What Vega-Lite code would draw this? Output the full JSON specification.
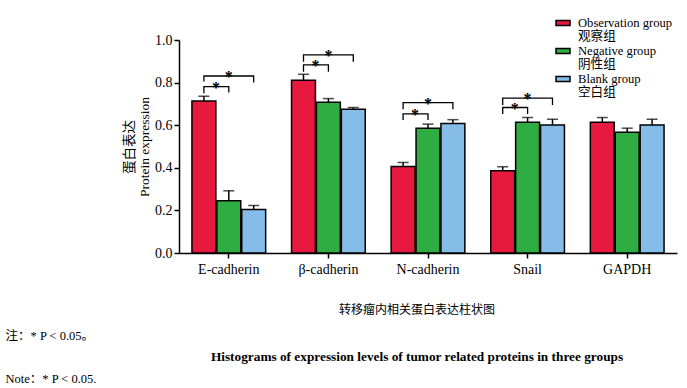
{
  "$schema": "https://vega.github.io/schema/vega-lite/v6.json",
  "width": 498,
  "height": 213,
  "autosize": "none",
  "padding": {"left": 179, "top": 40, "right": 10, "bottom": 135},
  "background": "white",
  "config": {
    "view": {"stroke": null},
    "axis": {
      "domainColor": "black", "domainWidth": 1.5, "tickColor": "black", "tickWidth": 1.5,
      "tickSize": 5, "grid": false, "labelColor": "black", "titleColor": "black",
      "labelFont": "Liberation Serif", "labelFontSize": 14
    }
  },
  "datasets": {
    "bars": [
      {"protein": "E-cadherin", "group": "Observation group", "value": 0.714, "upper": 0.736},
      {"protein": "E-cadherin", "group": "Negative group", "value": 0.245, "upper": 0.292},
      {"protein": "E-cadherin", "group": "Blank group", "value": 0.204, "upper": 0.223},
      {"protein": "β-cadherin", "group": "Observation group", "value": 0.811, "upper": 0.839},
      {"protein": "β-cadherin", "group": "Negative group", "value": 0.708, "upper": 0.725},
      {"protein": "β-cadherin", "group": "Blank group", "value": 0.675, "upper": 0.683},
      {"protein": "N-cadherin", "group": "Observation group", "value": 0.406, "upper": 0.425},
      {"protein": "N-cadherin", "group": "Negative group", "value": 0.586, "upper": 0.605},
      {"protein": "N-cadherin", "group": "Blank group", "value": 0.608, "upper": 0.626},
      {"protein": "Snail", "group": "Observation group", "value": 0.386, "upper": 0.405},
      {"protein": "Snail", "group": "Negative group", "value": 0.614, "upper": 0.636},
      {"protein": "Snail", "group": "Blank group", "value": 0.601, "upper": 0.628},
      {"protein": "GAPDH", "group": "Observation group", "value": 0.614, "upper": 0.636},
      {"protein": "GAPDH", "group": "Negative group", "value": 0.567, "upper": 0.586},
      {"protein": "GAPDH", "group": "Blank group", "value": 0.601, "upper": 0.628}
    ],
    "brackets": [
      {"protein": "E-cadherin", "bracket": "E1", "group": "Observation group", "y": 0.75, "ord": 1},
      {"protein": "E-cadherin", "bracket": "E1", "group": "Observation group", "y": 0.781, "ord": 2},
      {"protein": "E-cadherin", "bracket": "E1", "group": "Negative group", "y": 0.781, "ord": 3},
      {"protein": "E-cadherin", "bracket": "E1", "group": "Negative group", "y": 0.753, "ord": 4},
      {"protein": "E-cadherin", "bracket": "E2", "group": "Observation group", "y": 0.805, "ord": 1},
      {"protein": "E-cadherin", "bracket": "E2", "group": "Observation group", "y": 0.831, "ord": 2},
      {"protein": "E-cadherin", "bracket": "E2", "group": "Blank group", "y": 0.831, "ord": 3},
      {"protein": "E-cadherin", "bracket": "E2", "group": "Blank group", "y": 0.8, "ord": 4},
      {"protein": "β-cadherin", "bracket": "B1", "group": "Observation group", "y": 0.851, "ord": 1},
      {"protein": "β-cadherin", "bracket": "B1", "group": "Observation group", "y": 0.883, "ord": 2},
      {"protein": "β-cadherin", "bracket": "B1", "group": "Negative group", "y": 0.883, "ord": 3},
      {"protein": "β-cadherin", "bracket": "B1", "group": "Negative group", "y": 0.851, "ord": 4},
      {"protein": "β-cadherin", "bracket": "B2", "group": "Observation group", "y": 0.898, "ord": 1},
      {"protein": "β-cadherin", "bracket": "B2", "group": "Observation group", "y": 0.93, "ord": 2},
      {"protein": "β-cadherin", "bracket": "B2", "group": "Blank group", "y": 0.93, "ord": 3},
      {"protein": "β-cadherin", "bracket": "B2", "group": "Blank group", "y": 0.898, "ord": 4},
      {"protein": "N-cadherin", "bracket": "N1", "group": "Observation group", "y": 0.625, "ord": 1},
      {"protein": "N-cadherin", "bracket": "N1", "group": "Observation group", "y": 0.653, "ord": 2},
      {"protein": "N-cadherin", "bracket": "N1", "group": "Negative group", "y": 0.653, "ord": 3},
      {"protein": "N-cadherin", "bracket": "N1", "group": "Negative group", "y": 0.625, "ord": 4},
      {"protein": "N-cadherin", "bracket": "N2", "group": "Observation group", "y": 0.675, "ord": 1},
      {"protein": "N-cadherin", "bracket": "N2", "group": "Observation group", "y": 0.706, "ord": 2},
      {"protein": "N-cadherin", "bracket": "N2", "group": "Blank group", "y": 0.706, "ord": 3},
      {"protein": "N-cadherin", "bracket": "N2", "group": "Blank group", "y": 0.675, "ord": 4},
      {"protein": "Snail", "bracket": "S1", "group": "Observation group", "y": 0.652, "ord": 1},
      {"protein": "Snail", "bracket": "S1", "group": "Observation group", "y": 0.683, "ord": 2},
      {"protein": "Snail", "bracket": "S1", "group": "Negative group", "y": 0.683, "ord": 3},
      {"protein": "Snail", "bracket": "S1", "group": "Negative group", "y": 0.652, "ord": 4},
      {"protein": "Snail", "bracket": "S2", "group": "Observation group", "y": 0.695, "ord": 1},
      {"protein": "Snail", "bracket": "S2", "group": "Observation group", "y": 0.727, "ord": 2},
      {"protein": "Snail", "bracket": "S2", "group": "Blank group", "y": 0.727, "ord": 3},
      {"protein": "Snail", "bracket": "S2", "group": "Blank group", "y": 0.695, "ord": 4}
    ],
    "stars": [
      {"protein": "E-cadherin", "group": "Observation group", "pos": "inner", "y": 0.781},
      {"protein": "E-cadherin", "group": "Negative group", "pos": "outer", "y": 0.831},
      {"protein": "β-cadherin", "group": "Observation group", "pos": "inner", "y": 0.883},
      {"protein": "β-cadherin", "group": "Negative group", "pos": "outer", "y": 0.93},
      {"protein": "N-cadherin", "group": "Observation group", "pos": "inner", "y": 0.653},
      {"protein": "N-cadherin", "group": "Negative group", "pos": "outer", "y": 0.706},
      {"protein": "Snail", "group": "Observation group", "pos": "inner", "y": 0.683},
      {"protein": "Snail", "group": "Negative group", "pos": "outer", "y": 0.727}
    ]
  },
  "title": {
    "text": "转移瘤内相关蛋白表达柱状图",
    "subtitle": "Histograms of expression levels of tumor related proteins in three groups",
    "orient": "bottom",
    "anchor": "middle",
    "frame": "group",
    "dx": -11,
    "offset": -80,
    "font": "Noto Sans CJK SC",
    "fontSize": 12,
    "fontWeight": "normal",
    "color": "black",
    "subtitleFont": "Liberation Serif",
    "subtitleFontSize": 13.3,
    "subtitleFontWeight": "bold",
    "subtitleColor": "black",
    "subtitlePadding": 33
  },
  "encoding": {
    "x": {
      "field": "protein", "type": "nominal",
      "sort": ["E-cadherin", "β-cadherin", "N-cadherin", "Snail", "GAPDH"],
      "scale": {"paddingInner": 0.26, "paddingOuter": 0.13},
      "axis": {
        "labelAngle": 0, "labelPadding": 4,
        "title": ["注：* P < 0.05。", "Note：* P < 0.05."],
        "titleFont": "Liberation Serif, Noto Sans CJK SC",
        "titleFontSize": 12.5, "titleFontWeight": "normal",
        "titleAlign": "left", "titleAnchor": "start", "titleX": -174, "titleY": 86,
        "titleBaseline": "alphabetic", "titleLineHeight": 43
      }
    },
    "xOffset": {
      "field": "group", "type": "nominal",
      "sort": ["Observation group", "Negative group", "Blank group"],
      "scale": {"paddingInner": 0.04}
    }
  },
  "layer": [
    {
      "data": {"name": "bars"},
      "mark": {"type": "bar", "stroke": "black", "strokeWidth": 1.5},
      "encoding": {
        "y": {
          "field": "value", "type": "quantitative",
          "scale": {"domain": [0, 1], "nice": false},
          "axis": {
            "values": [0, 0.2, 0.4, 0.6, 0.8, 1.0], "format": ".1f", "labelPadding": 2,
            "title": ["蛋白表达", "Protein expression"],
            "titleFont": "Liberation Serif, Noto Sans CJK SC", "titleFontSize": 13.5,
            "titleFontWeight": "normal", "titleLineHeight": 15, "titlePadding": 3
          }
        },
        "color": {
          "field": "group", "type": "nominal",
          "scale": {
            "domain": ["Observation group", "Negative group", "Blank group"],
            "range": ["#E8193E", "#2EAE42", "#86BDE8"]
          },
          "legend": {
            "orient": "none", "legendX": 376, "legendY": -25, "title": null,
            "padding": 0,
            "symbolType": "M-1,-0.35H1V0.35H-1Z", "symbolSize": 196,
            "symbolStrokeColor": "black", "symbolStrokeWidth": 1.5,
            "labelFont": "Liberation Serif, Noto Sans CJK SC", "labelFontSize": 12.6,
            "labelColor": "black", "labelOffset": 7,
            "labelBaseline": "middle", "rowPadding": 0, "labelLimit": 200,
            "encode": {"labels": {"update": {"lineHeight": {"value": 12.5}}}},
            "labelExpr": "datum.label == 'Observation group' ? ['Observation group', '观察组'] : datum.label == 'Negative group' ? ['Negative group', '阴性组'] : ['Blank group', '空白组']"
          }
        }
      }
    },
    {
      "data": {"name": "bars"},
      "mark": {"type": "rule", "color": "black", "strokeWidth": 1.5},
      "encoding": {
        "y": {"field": "value", "type": "quantitative"},
        "y2": {"field": "upper"}
      }
    },
    {
      "data": {"name": "bars"},
      "mark": {"type": "tick", "color": "black", "thickness": 1.5, "size": 11, "orient": "horizontal"},
      "encoding": {
        "y": {"field": "upper", "type": "quantitative"}
      }
    },
    {
      "data": {"name": "brackets"},
      "mark": {"type": "line", "color": "black", "strokeWidth": 1.3},
      "encoding": {
        "y": {"field": "y", "type": "quantitative"},
        "detail": {"field": "bracket"},
        "order": {"field": "ord"}
      }
    },
    {
      "data": {"name": "stars"},
      "transform": [{"filter": "datum.pos == 'inner'"}],
      "mark": {"type": "text", "text": "*", "font": "Liberation Serif", "fontSize": 16, "fontWeight": "bold", "dx": 12, "dy": 6, "baseline": "alphabetic", "color": "black"},
      "encoding": {
        "y": {"field": "y", "type": "quantitative"}
      }
    },
    {
      "data": {"name": "stars"},
      "transform": [{"filter": "datum.pos == 'outer'"}],
      "mark": {"type": "text", "text": "*", "font": "Liberation Serif", "fontSize": 16, "fontWeight": "bold", "dy": 6, "baseline": "alphabetic", "color": "black"},
      "encoding": {
        "y": {"field": "y", "type": "quantitative"}
      }
    }
  ]
}
